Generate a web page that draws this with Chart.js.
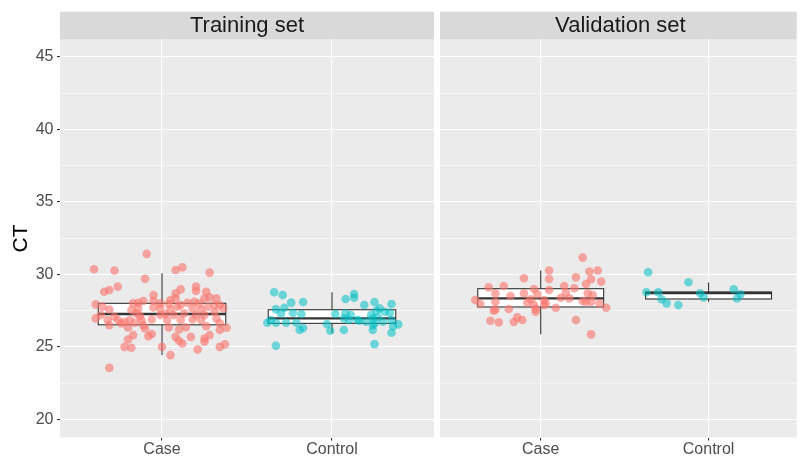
<!DOCTYPE html>
<html><head><meta charset="utf-8">
<script src="https://cdn.jsdelivr.net/npm/chart.js@4.4.1/dist/chart.umd.min.js"></script>
<style>
html,body{margin:0;padding:0;background:#fff;}
#wrap{position:relative;width:801px;height:459px;overflow:hidden;}
canvas{position:absolute;left:0;top:0;}
</style></head><body>
<div id="wrap"><canvas id="c1" width="801" height="459"></canvas><canvas id="c2" width="801" height="459"></canvas></div>
<script>
// ---- data ----
const categories = ['Case', 'Control'];
const panelTitles = ['Training set', 'Validation set'];
const yAxisTitle = 'CT';
const yTicks = [20, 25, 30, 35, 40, 45];

const trainCaseCT = [31.42,30.36,30.27,30.31,30.49,30.13,29.71,28.81,28.93,29.16,
 28.58,28.70,29.16,28.86,28.81,28.97,28.35,28.24,28.35,28.42,
 28.35,27.94,27.78,28.01,28.05,28.17,28.19,28.01,27.96,27.89,
 28.05,28.12,28.01,27.78,27.89,27.89,27.59,27.55,27.66,27.73,
 27.66,27.59,27.78,27.66,27.59,27.43,27.66,27.20,27.09,27.32,
 27.13,27.20,27.27,27.20,27.32,27.20,27.20,26.97,26.86,26.86,
 26.74,26.86,26.86,26.90,26.86,26.86,26.90,26.86,26.97,26.51,
 26.63,26.67,26.51,26.35,26.21,26.35,26.44,26.63,26.33,26.35,
 26.28,25.89,25.82,25.75,25.70,25.70,25.59,25.82,26.17,25.52,
 25.43,25.24,25.36,25.01,24.95,25.01,24.83,25.01,25.18,24.44,23.56];
const trainCaseJitter = [-0.09,-0.40,-0.28,0.08,0.12,0.28,-0.10,-0.34,-0.31,-0.26,
 -0.05,0.08,0.20,0.20,0.26,0.11,0.08,0.05,0.32,0.28,
 0.25,-0.39,-0.35,-0.17,-0.14,-0.11,-0.05,-0.01,0.04,0.11,
 0.15,0.19,0.22,0.27,0.31,0.34,-0.31,-0.18,-0.14,-0.05,
 -0.01,0.05,0.09,0.18,0.23,0.31,0.36,-0.36,-0.28,-0.15,
 -0.13,-0.01,0.02,0.07,0.13,0.20,0.25,-0.39,-0.32,-0.26,
 -0.22,-0.19,-0.12,-0.06,0.03,0.11,0.18,0.23,0.32,-0.31,
 -0.24,-0.16,-0.11,0.04,0.10,0.14,0.26,0.34,0.38,-0.20,
 -0.10,-0.06,-0.17,-0.08,0.08,0.17,0.25,0.28,0.34,-0.20,
 0.10,0.12,0.25,-0.22,-0.18,0.00,0.21,0.34,0.37,0.05,-0.31];

const trainControlCT = [28.77,28.58,28.06,28.10,27.60,27.71,27.32,27.36,27.27,28.31,
 28.65,28.40,27.89,28.10,27.66,27.96,27.50,27.36,26.67,26.67,
 26.67,26.67,26.17,26.31,26.58,26.12,27.27,27.32,27.20,26.86,
 26.17,26.86,26.81,27.20,26.97,26.51,26.17,26.63,27.04,26.74,
 26.86,26.44,26.56,25.98,25.08,25.20,26.86,26.74,26.97,27.43];
const trainControlJitter = [-0.34,-0.29,-0.24,-0.17,-0.33,-0.28,-0.30,-0.23,-0.18,0.08,
 0.13,0.13,0.19,0.25,0.28,0.35,0.26,0.34,-0.38,-0.33,
 -0.27,-0.21,-0.19,-0.17,-0.03,-0.01,0.02,0.08,0.11,0.10,
 0.07,0.15,0.16,0.23,0.24,0.24,0.24,0.25,0.27,0.30,
 0.35,0.36,0.39,0.35,-0.33,0.25,-0.36,0.20,0.07,0.31];

const valCaseCT = [31.16,30.27,29.69,29.74,29.80,30.20,30.27,29.51,29.67,29.34,
 29.11,29.21,29.00,29.21,29.05,28.93,28.70,28.52,28.70,28.63,
 28.75,28.70,28.58,28.24,27.96,28.12,28.06,28.29,27.89,28.24,
 28.01,28.40,28.35,28.17,28.12,28.01,27.59,27.62,27.62,27.89,
 27.71,27.71,26.81,26.70,26.72,27.04,26.86,26.86,25.87,27.50,
 28.12,27.43];
const valCaseJitter = [0.25,0.05,0.05,-0.10,0.21,0.29,0.34,0.36,0.30,0.27,
 -0.31,-0.22,-0.04,0.14,0.20,0.05,-0.27,-0.18,-0.10,-0.02,
 0.15,0.28,0.31,-0.39,-0.36,-0.27,-0.08,-0.06,-0.04,0.02,
 0.03,0.12,0.17,0.25,0.30,0.35,-0.27,-0.19,-0.03,0.02,
 0.09,0.39,-0.30,-0.25,-0.16,-0.14,-0.11,0.21,0.30,-0.28,
 0.27,-0.03];

const valControlCT = [30.15,29.46,28.77,28.77,28.29,28.01,27.89,28.70,28.42,28.98,28.63,28.35];
const valControlJitter = [-0.36,-0.12,-0.37,-0.30,-0.28,-0.25,-0.18,-0.05,-0.03,0.15,0.19,0.17];

// boxplot statistics [Case, Control]
const trainLower  = [24.44, 25.94];
const trainQ1     = [26.53, 26.63];
const trainMedian = [27.27, 26.97];
const trainQ3     = [28.01, 27.57];
const trainUpper  = [30.08, 28.77];

const valLower  = [25.87, 28.12];
const valQ1     = [27.76, 28.31];
const valMedian = [28.35, 28.72];
const valQ3     = [29.02, 28.79];
const valUpper  = [30.27, 29.44];

// ---- rendering ----
const FONT = "'Liberation Sans', Arial, Helvetica, sans-serif";
Chart.defaults.font.family = FONT;

const gridValues = [];
yTicks.forEach(v => { gridValues.push(v); if (v + 2.5 < 46) gridValues.push(v + 2.5); });

function pts(ct, jit, cat) { return ct.map((v, i) => ({x: cat + jit[i], y: v})); }

function makeChart(canvasId, panel, datasets, stats, showY, xMax, padLeft, padRight) {
  const stripPlugin = {
    id: 'strip' + panel,
    beforeDraw(chart) {
      const {ctx, chartArea: a} = chart;
      ctx.save();
      ctx.fillStyle = '#EBEBEB';
      ctx.fillRect(a.left, a.top, a.right - a.left, a.bottom - a.top);
      ctx.fillStyle = '#D9D9D9';
      ctx.fillRect(a.left, a.top - 27.8, a.right - a.left, 27.8);
      ctx.fillStyle = '#1A1A1A';
      ctx.font = '22px ' + FONT;
      ctx.textAlign = 'center';
      ctx.textBaseline = 'middle';
      ctx.fillText(panelTitles[panel], (a.left + a.right) / 2 + (panel === 1 ? 2 : 0), a.top - 13.4);
      ctx.restore();
    }
  };
  const boxPlugin = {
    id: 'box' + panel,
    beforeDatasetsDraw(chart) {
      const xs = chart.scales.x, ys = chart.scales.y, ctx = chart.ctx;
      ctx.save();
      categories.forEach((c, i) => {
        const pos = i + 1;
        const xl = xs.getPixelForValue(pos - 0.375), xr = xs.getPixelForValue(pos + 0.375), xc = xs.getPixelForValue(pos);
        const yLo = ys.getPixelForValue(stats.lower[i]), yQ1 = ys.getPixelForValue(stats.q1[i]);
        const yMd = ys.getPixelForValue(stats.median[i]), yQ3 = ys.getPixelForValue(stats.q3[i]);
        const yHi = ys.getPixelForValue(stats.upper[i]);
        ctx.strokeStyle = '#333333';
        ctx.lineWidth = 1.1;
        ctx.beginPath();
        ctx.moveTo(xc, yHi); ctx.lineTo(xc, yQ3);
        ctx.moveTo(xc, yQ1); ctx.lineTo(xc, yLo);
        ctx.stroke();
        ctx.fillStyle = '#FFFFFF';
        ctx.fillRect(xl, yQ3, xr - xl, yQ1 - yQ3);
        ctx.strokeRect(xl, yQ3, xr - xl, yQ1 - yQ3);
        ctx.lineWidth = 2.4;
        ctx.beginPath();
        ctx.moveTo(xl, yMd); ctx.lineTo(xr, yMd);
        ctx.stroke();
      });
      ctx.restore();
    }
  };
  return new Chart(document.getElementById(canvasId), {
    type: 'scatter',
    data: {datasets},
    plugins: [stripPlugin, boxPlugin],
    options: {
      responsive: false,
      animation: false,
      events: [],
      layout: {padding: {left: padLeft, right: padRight, top: 39.5, bottom: 0}},
      plugins: {legend: {display: false}, tooltip: {enabled: false}},
      scales: {
        x: {
          type: 'linear', min: 0.4, max: xMax,
          afterBuildTicks: s => { s.ticks = categories.map((c, i) => ({value: i + 1})); },
          afterFit: s => { s.height = 21.5; },
          ticks: {autoSkip: false, maxRotation: 0, padding: 1.5, color: '#4D4D4D',
                  font: {size: 16, lineHeight: 1}, callback: v => categories[Math.round(v) - 1] || ''},
          grid: {color: '#FFFFFF', lineWidth: 1.1, tickLength: 3, tickColor: '#333333', tickWidth: 1.1},
          border: {display: false}
        },
        y: {
          type: 'linear', min: 18.76, max: 46.2,
          afterBuildTicks: s => { s.ticks = gridValues.map(v => ({value: v})); },
          afterFit: s => { s.width = showY ? 60 : 0; },
          ticks: {display: showY, autoSkip: false, padding: 3.5, color: '#4D4D4D',
                  font: {size: 16}, callback: v => (v % 5 === 0 ? String(v) : '')},
          grid: {
            color: '#FFFFFF',
            lineWidth: c => (c.tick && c.tick.value % 5 === 0 ? 1.1 : 0.55),
            drawTicks: showY, tickLength: 3, tickWidth: 1.1,
            tickColor: c => (c.tick && c.tick.value % 5 === 0 ? '#333333' : 'rgba(0,0,0,0)')
          },
          border: {display: false},
          title: {display: showY, text: yAxisTitle, color: '#000000', font: {size: 21}, padding: {top: 8.5, bottom: 0}}
        }
      }
    }
  });
}

const red = 'rgba(248,118,109,0.62)';
const cyan = 'rgba(0,191,196,0.55)';
function ds(data, color) {
  return {data, backgroundColor: color, borderWidth: 0, pointRadius: 4.3, pointHoverRadius: 4.3};
}

makeChart('c1', 0,
  [ds(pts(trainCaseCT, trainCaseJitter, 1), red), ds(pts(trainControlCT, trainControlJitter, 2), cyan)],
  {lower: trainLower, q1: trainQ1, median: trainMedian, q3: trainQ3, upper: trainUpper},
  true, 2.6, 0, 367);

makeChart('c2', 1,
  [ds(pts(valCaseCT, valCaseJitter, 1), red), ds(pts(valControlCT, valControlJitter, 2), cyan)],
  {lower: valLower, q1: valQ1, median: valMedian, q3: valQ3, upper: valUpper},
  false, 2.525, 440, 0);
</script>
</body></html>
